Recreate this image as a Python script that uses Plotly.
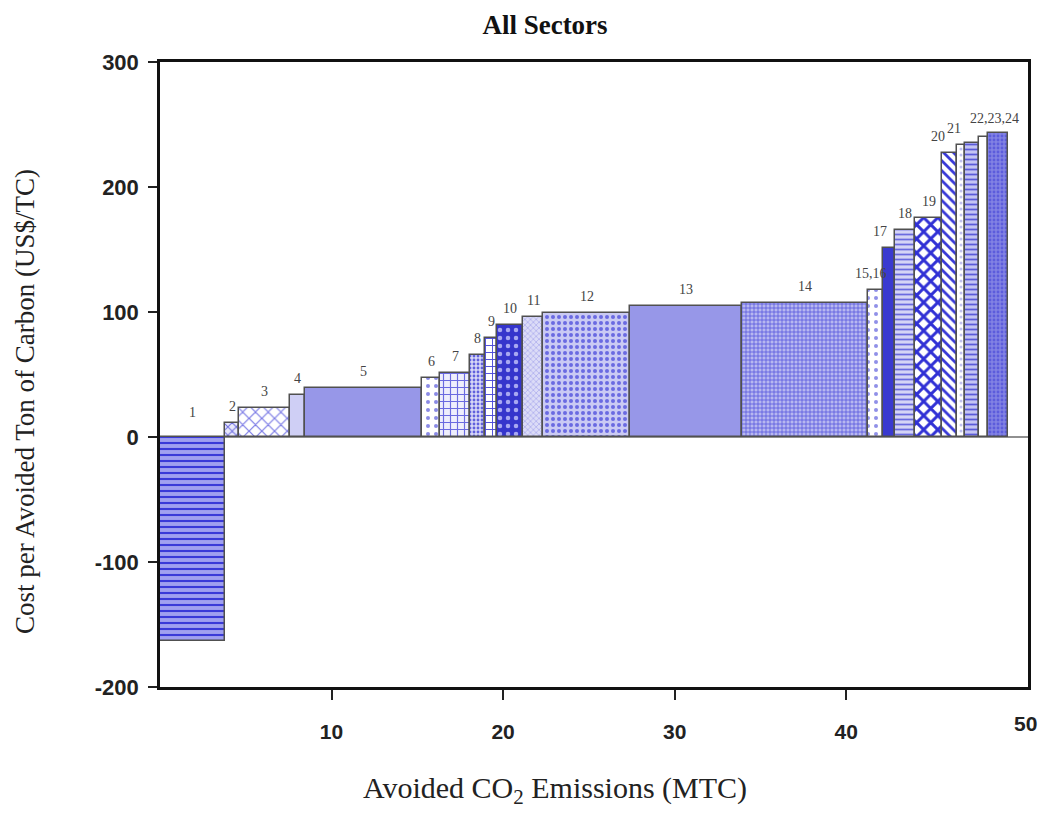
import numpy as np
import plotly.graph_objects as go

# ---- data ----
labels = ["1", "2", "3", "4", "5", "6", "7", "8", "9", "10", "11", "12",
          "13", "14", "15,16", "17", "18", "19", "20", "21", "22", "23", "24"]
# avoided CO2 emissions of each measure (MTC) = bar widths
avoided = [3.79, 0.82, 2.97, 0.87, 6.83, 1.05, 1.75, 0.87, 0.70, 1.52, 1.16, 5.08,
           6.53, 7.34, 0.88, 0.70, 1.16, 1.58, 0.87, 0.47, 0.82, 0.52, 1.17]
# cost per avoided ton of carbon (US$/TC) = bar heights
cost = [-163, 11, 23, 34, 39, 47, 51, 66, 79, 90, 96, 99,
        105, 107, 118, 151, 166, 175, 227, 234, 235, 240, 243]
y_ticks = [-200, -100, 0, 100, 200, 300]
x_ticks = [10, 20, 30, 40]
group_label = "22,23,24"   # one label shared by the last three bars

# ---- styles (per bar) ----
shapes = ["-", "x", "x", "", "", ".", "+", ".", "+", ".", "x", ".",
          "", "+", ".", "", "-", "x", "\\", ".", "-", "", "."]
fg = ["#3a3ad8", "#6a6ae0", "#7a7ae6", "#cfcff5", "#9797e8", "#8a8ae6", "#6a6ae0",
      "#6060dd", "#4a4ad8", "#a8a8f2", "#b4b4ee", "#6a6ae2", "#9797e8", "#5555dd",
      "#9090e8", "#3a3ad0", "#6a6ae0", "#3030d5", "#3a3ad8", "#c0c0f0", "#5a5ad8",
      "#ffffff", "#5c5cdc"]
bg = ["#a0a0f0", "#e8e8fb", "#ffffff", "#cfcff5", "#9797e8", "#ffffff", "#eeeefc",
      "#d8d8f7", "#ffffff", "#3535cc", "#dcdcf7", "#cacaf4", "#9797e8", "#b8b8f0",
      "#ffffff", "#3a3ad0", "#d4d4f6", "#ffffff", "#ffffff", "#ffffff", "#c4c4f3",
      "#ffffff", "#8282e4"]
psize = [6, 6, 9, 6, 6, 8, 7, 4, 7, 8, 4, 6, 6, 4, 8, 6, 5, 10, 7, 6, 5, 6, 4]
solid = [0.35, 0.3, 0.25, 0.3, 0.3, 0.2, 0.3, 0.4, 0.25, 0.25, 0.4, 0.35,
         0.3, 0.35, 0.2, 0.3, 0.35, 0.5, 0.4, 0.2, 0.35, 0.3, 0.4]
label_dx = [0, 0, 0, 0, 0, 0, 0, 0, 0, 0, 0, 0,
            0, 0, -5, -9, 0, 0, -12, -7, 0, 0, 0]

widths = np.array(avoided)
right = np.cumsum(widths)
left = right - widths
centers = left + widths / 2

fig = go.Figure()
for i in range(len(labels)):
    marker = dict(color=fg[i], line=dict(color="#505050", width=1.5))
    if shapes[i]:
        marker["pattern"] = dict(shape=shapes[i], fgcolor=fg[i], bgcolor=bg[i],
                                 size=psize[i], solidity=solid[i], fillmode="replace")
    else:
        marker["color"] = bg[i]
    fig.add_trace(go.Bar(x=[centers[i]], y=[cost[i]], width=[widths[i]],
                         marker=marker, name=labels[i], showlegend=False))

serif = "Liberation Serif, Times New Roman, serif"
sans = "Liberation Sans, Arial, sans-serif"

n_single = len(labels) - 3
for i in range(n_single):
    top = max(cost[i], 0)
    fig.add_annotation(x=centers[i], y=top, text=labels[i], showarrow=False,
                       xanchor="center", yanchor="bottom",
                       yshift=7 if cost[i] > 0 else 15,
                       xshift=label_dx[i],
                       font=dict(family=serif, size=14, color="#444"))
# shared label of the last three bars
gx = (left[n_single] + right[-1]) / 2
fig.add_annotation(x=gx, y=max(cost[n_single:]), text=group_label, showarrow=False,
                   xanchor="center", yanchor="bottom", yshift=5, xshift=8,
                   font=dict(family=serif, size=14, color="#444"))

# page layout (browser body has an 8px margin)
L, R, T, B = 152, 27, 54, 156
W, H = 1047, 835
PW, PH = W - L - R, H - T - B


def px(xp):
    return (xp - 8 - L) / PW


def py(yp):
    return 1 - (yp - 8 - T) / PH


fig.add_annotation(xref="paper", yref="paper", x=px(1025), y=py(723), text="<b>50</b>",
                   showarrow=False, xanchor="center", yanchor="middle",
                   font=dict(family=sans, size=21, color="#222"))
fig.add_annotation(xref="paper", yref="paper", x=px(25), y=py(402), textangle=-90,
                   text="Cost per Avoided Ton of Carbon (US$/TC)", showarrow=False,
                   xanchor="center", yanchor="middle",
                   font=dict(family=serif, size=27, color="#222"))
fig.add_annotation(xref="paper", yref="paper", x=px(555), y=py(790),
                   text="Avoided CO<sub>2</sub> Emissions (MTC)", showarrow=False,
                   xanchor="center", yanchor="middle",
                   font=dict(family=serif, size=30, color="#222"))

fig.update_layout(
    width=W, height=H,
    margin=dict(l=L, r=R, t=T, b=B),
    paper_bgcolor="white", plot_bgcolor="white",
    barmode="overlay", bargap=0,
    title=dict(text="<b>All Sectors</b>", x=(545 - 8) / W, xanchor="center",
               y=1 - (25 - 8) / H, yanchor="middle",
               font=dict(family=serif, size=27, color="#111")),
    xaxis=dict(range=[0, 50.6], tickvals=x_ticks,
               ticktext=["<b>%d</b>" % v for v in x_ticks],
               ticks="outside", ticklen=10, tickwidth=2, tickcolor="#222",
               ticklabelstandoff=14,
               showline=True, linecolor="#111", linewidth=2.5, mirror=True,
               showgrid=False, zeroline=False,
               tickfont=dict(family=sans, size=21, color="#222")),
    yaxis=dict(range=[-200, 300], tickvals=y_ticks,
               ticktext=["<b>%d</b>" % v for v in y_ticks],
               ticks="outside", ticklen=9, tickwidth=2, tickcolor="#222",
               ticklabelstandoff=5,
               showline=True, linecolor="#111", linewidth=2.5, mirror=True,
               showgrid=False,
               zeroline=True, zerolinecolor="#909090", zerolinewidth=1.5,
               tickfont=dict(family=sans, size=22, color="#222")),
)

fig.write_html("out.html")
